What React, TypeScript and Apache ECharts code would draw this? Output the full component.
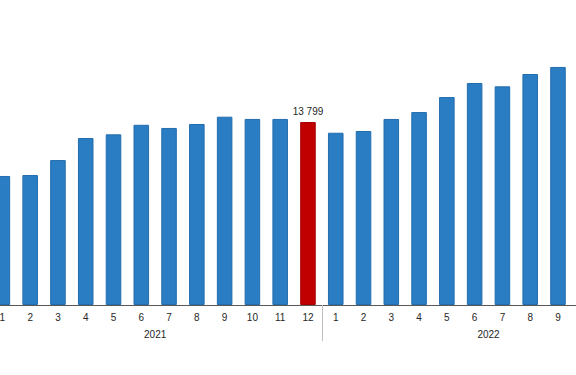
import React, { useEffect, useRef } from "react";
import * as echarts from "echarts";

const months = ["1", "2", "3", "4", "5", "6", "7", "8", "9", "10", "11", "12", "1", "2", "3", "4", "5", "6", "7", "8", "9", "10", "11", "12"];
const years = ["2021", "2022"];
const values: (number | null)[] = [
  9730, 9800, 10930, 12590, 12870, 13590, 13350, 13650, 14200, 14030, 14030, 13799,
  12990, 13120, 14030, 14550, 15680, 16740, 16490, 17420, 17950, null, null, null,
];
const highlightIndex = 11;
const lastVisibleIndex = 20;

export default function App() {
  const ref = useRef<HTMLDivElement>(null);
  useEffect(() => {
    if (!ref.current) return;
    const chart = echarts.init(ref.current, null, { renderer: "svg" });
    const font = "Liberation Sans, Arial, sans-serif";
    chart.setOption({
      animation: false,
      backgroundColor: "#ffffff",
      grid: { left: -11.5, right: -79.2, top: 0, bottom: 70, outerBoundsMode: "none", containLabel: false },
      xAxis: [
        {
          type: "category",
          data: months,
          position: "bottom",
          axisLine: { show: true, lineStyle: { color: "#595959", width: 1 } },
          axisTick: { show: false },
          axisLabel: {
            interval: 0,
            fontSize: 10,
            color: "#262626",
            fontFamily: font,
            margin: 7,
            formatter: (v: string, i: number) => (i > lastVisibleIndex ? "" : v),
          },
        },
        {
          type: "category",
          data: years,
          position: "bottom",
          axisLine: { show: false },
          axisTick: { show: true, length: 36, lineStyle: { color: "#BFBFBF", width: 1 } },
          axisLabel: { interval: 0, fontSize: 10, color: "#262626", fontFamily: font, margin: 24 },
        },
      ],
      yAxis: { type: "value", min: 0, max: 23000, show: false, splitLine: { show: false } },
      series: [
        {
          type: "bar",
          xAxisIndex: 0,
          barWidth: "56%",
          data: values.map((v, i) =>
            i === highlightIndex
              ? {
                  value: v,
                  itemStyle: { color: "#C00000", borderColor: "#A80000", borderWidth: 1 },
                  label: {
                    show: true,
                    position: "top",
                    distance: 6,
                    fontSize: 10,
                    color: "#262626",
                    fontFamily: font,
                    formatter: (p: any) => String(p.value).replace(/\B(?=(\d{3})+(?!\d))/g, " "),
                  },
                }
              : v
          ),
          itemStyle: { color: "#2A7DC3", borderColor: "#236DAE", borderWidth: 1 },
        },
      ],
    });
    return () => chart.dispose();
  }, []);
  return <div ref={ref} style={{ position: "fixed", left: 0, top: 0, width: 576, height: 375 }} />;
}
